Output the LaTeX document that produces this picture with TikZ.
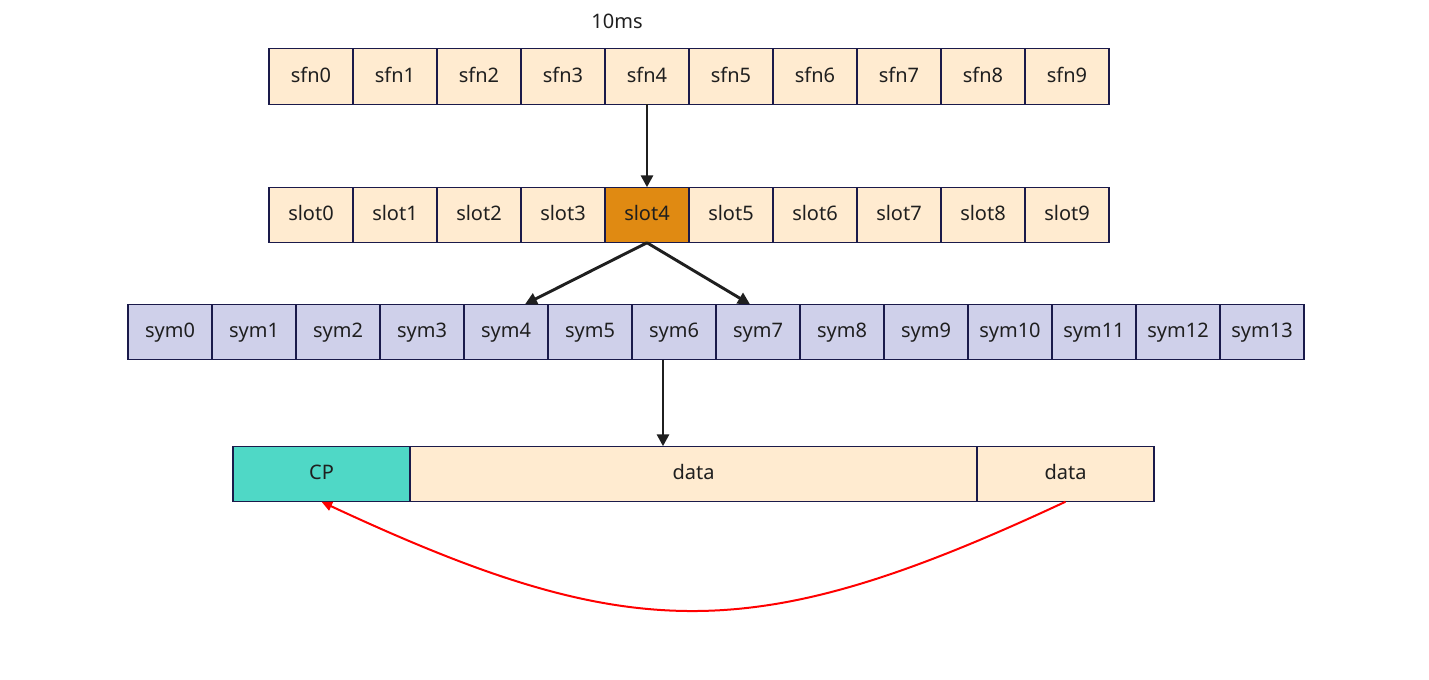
\documentclass[tikz,border=0pt]{standalone}
\usepackage{fontspec}
\setmainfont{Noto Sans}
\usetikzlibrary{arrows.meta}
\usetikzlibrary{positioning}
\definecolor{frame}{HTML}{1A1A4A}
\definecolor{peach}{HTML}{FFEBD0}
\definecolor{amber}{HTML}{E08A12}
\definecolor{lilac}{HTML}{CFD0EA}
\definecolor{teal}{HTML}{4FD8C6}
\definecolor{ink}{HTML}{1F1F1F}

\begin{document}
\begin{tikzpicture}[x=0.75pt,y=-0.75pt,
  every node/.style={font=\fontsize{15}{18}\selectfont,text=ink},
  cell/.style={draw=frame,line width=0.8pt,fill=peach,minimum width=63pt,minimum height=41.6pt,inner sep=0pt,outer sep=0pt,text height=0.85em,text depth=0pt},
  symcell/.style={cell,fill=lilac},
  arr/.style={draw=ink,line width=2.2pt,-{Triangle[length=9pt,width=9pt]}}]
\useasboundingbox (0,0) rectangle (1429,679);
\node (title) at (617,21) {10ms};
% subframes
\node[cell] (sfn0) at (311,76.5) {sfn0};
\node[cell] (sfn1) at (395,76.5) {sfn1};
\node[cell] (sfn2) at (479,76.5) {sfn2};
\node[cell] (sfn3) at (563,76.5) {sfn3};
\node[cell] (sfn4) at (647,76.5) {sfn4};
\node[cell] (sfn5) at (731,76.5) {sfn5};
\node[cell] (sfn6) at (815,76.5) {sfn6};
\node[cell] (sfn7) at (899,76.5) {sfn7};
\node[cell] (sfn8) at (983,76.5) {sfn8};
\node[cell] (sfn9) at (1067,76.5) {sfn9};
% slots
\node[cell] (slot0) at (311,215) {slot0};
\node[cell] (slot1) at (395,215) {slot1};
\node[cell] (slot2) at (479,215) {slot2};
\node[cell] (slot3) at (563,215) {slot3};
\node[cell,fill=amber] (slot4) at (647,215) {slot4};
\node[cell] (slot5) at (731,215) {slot5};
\node[cell] (slot6) at (815,215) {slot6};
\node[cell] (slot7) at (899,215) {slot7};
\node[cell] (slot8) at (983,215) {slot8};
\node[cell] (slot9) at (1067,215) {slot9};
% symbols
\node[symcell] (sym0) at (170,332) {sym0};
\node[symcell] (sym1) at (254,332) {sym1};
\node[symcell] (sym2) at (338,332) {sym2};
\node[symcell] (sym3) at (422,332) {sym3};
\node[symcell] (sym4) at (506,332) {sym4};
\node[symcell] (sym5) at (590,332) {sym5};
\node[symcell] (sym6) at (674,332) {sym6};
\node[symcell] (sym7) at (758,332) {sym7};
\node[symcell] (sym8) at (842,332) {sym8};
\node[symcell] (sym9) at (926,332) {sym9};
\node[symcell] (sym10) at (1010,332) {sym10};
\node[symcell] (sym11) at (1094,332) {sym11};
\node[symcell] (sym12) at (1178,332) {sym12};
\node[symcell] (sym13) at (1262,332) {sym13};
% one symbol
\node[cell,fill=teal,minimum width=132.75pt] (cp) at (321.5,474) {CP};
\node[cell,minimum width=425.25pt] (data) at (693.5,474) {data};
\node[cell,minimum width=132.75pt] (tail) at (1065.5,474) {data};

\draw[arr] (sfn4.south) -- (slot4.north);
\draw[arr] (slot4.south) -- ([xshift=14.25pt]sym4.north);
\draw[arr] (slot4.south) -- ([xshift=-6pt]sym7.north);
\draw[arr] ([xshift=-8.25pt]sym6.south) -- ([xshift=-8.25pt]sym6.south |- data.north);
\draw[red,line width=1.5pt,-{Triangle[length=8pt,width=7pt]}] (tail.south) .. controls +(-311,145) and +(311,145) .. (cp.south);
\end{tikzpicture}
\end{document}
